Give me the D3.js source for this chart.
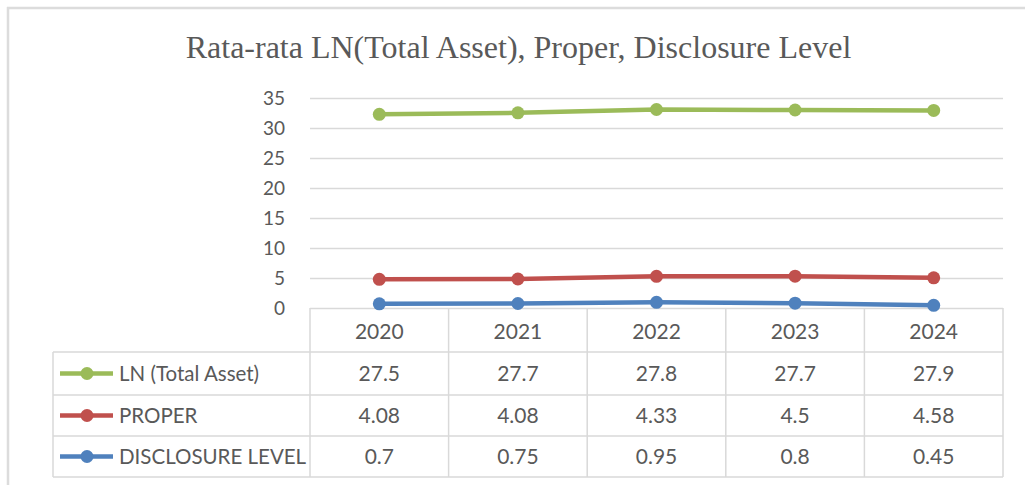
<!DOCTYPE html>
<html>
<head>
<meta charset="utf-8">
<script src="https://cdn.jsdelivr.net/npm/d3@7"></script>
<style>
  body { margin: 0; background: #fff; }
  svg { display: block; }
  .tick text { fill: #595959; }
</style>
</head>
<body>
<div id="chart"></div>
<script>
// data (stacked line chart, table shows raw values)
var years = ["2020", "2021", "2022", "2023", "2024"];
var lnAsset = [27.5, 27.7, 27.8, 27.7, 27.9];
var proper = [4.08, 4.08, 4.33, 4.5, 4.58];
var disclosure = [0.7, 0.75, 0.95, 0.8, 0.45];
var seriesNames = ["LN (Total Asset)", "PROPER", "DISCLOSURE LEVEL"];
var yTicks = [0, 5, 10, 15, 20, 25, 30, 35];

var width = 1025, height = 485;
var plotLeft = 310, plotRight = 1003, plotTop = 98, plotBottom = 308;
var colors = { "DISCLOSURE LEVEL": "#4F81BD", "PROPER": "#C0504D", "LN (Total Asset)": "#9BBB59" };
var grid = "#d9d9d9", textCol = "#595959";
var font = "Lato, 'Open Sans', sans-serif";

var svg = d3.select("#chart").append("svg")
    .attr("width", width)
    .attr("height", height);

// frame (top + left only, like the screenshot)
svg.append("line").attr("x1", 7).attr("x2", width).attr("y1", 8).attr("y2", 8)
    .attr("stroke", "#dcdcdc").attr("stroke-width", 2.5);
svg.append("line").attr("x1", 8).attr("x2", 8).attr("y1", 7).attr("y2", height)
    .attr("stroke", "#dcdcdc").attr("stroke-width", 2.5);

svg.append("text")
    .attr("x", (187 + 850) / 2)
    .attr("y", 58)
    .attr("text-anchor", "middle")
    .style("font-family", "'Liberation Serif', 'DejaVu Serif', serif")
    .style("font-size", "32px")
    .style("fill", textCol)
    .text("Rata-rata LN(Total Asset), Proper, Disclosure Level");

var x = d3.scaleBand().domain(years).range([plotLeft, plotRight]);
var y = d3.scaleLinear().domain([0, 35]).range([plotBottom, plotTop]);

// gridlines + y labels
var yAxis = svg.append("g")
    .attr("transform", "translate(" + plotLeft + ",0)")
    .call(d3.axisLeft(y).tickValues(yTicks).tickSize(-(plotRight - plotLeft)).tickPadding(25));
yAxis.select(".domain").remove();
yAxis.selectAll(".tick line").attr("stroke", grid).attr("stroke-width", 1.5);
yAxis.selectAll(".tick text")
    .style("font-family", font)
    .style("font-size", "19px");

// stacked series
var rows = years.map(function(yr, i) {
    return { year: yr, "DISCLOSURE LEVEL": disclosure[i], "PROPER": proper[i], "LN (Total Asset)": lnAsset[i] };
});
var stack = d3.stack().keys(["DISCLOSURE LEVEL", "PROPER", "LN (Total Asset)"]);
var layers = stack(rows);

var line = d3.line()
    .x(function(d) { return x(d.data.year) + x.bandwidth() / 2; })
    .y(function(d) { return y(d[1]); });

var layer = svg.selectAll(".layer")
    .data(layers)
    .enter().append("g")
    .attr("class", "layer");

layer.append("path")
    .attr("d", line)
    .attr("fill", "none")
    .attr("stroke", function(d) { return colors[d.key]; })
    .attr("stroke-width", 4.5)
    .attr("stroke-linejoin", "round");

layer.selectAll("circle")
    .data(function(d) { return d.map(function(p) { p.key = d.key; return p; }); })
    .enter().append("circle")
    .attr("cx", function(d) { return x(d.data.year) + x.bandwidth() / 2; })
    .attr("cy", function(d) { return y(d[1]); })
    .attr("r", 6.5)
    .attr("fill", function(d) { return colors[d.key]; });

// data table
var tableLeft = 53;
var rowEdges = [308, 352, 395, 436, 477];
var values = [lnAsset, proper, disclosure];
var t = svg.append("g").attr("class", "table");

rowEdges.slice(1).forEach(function(yy) {
    t.append("line").attr("x1", tableLeft).attr("x2", plotRight).attr("y1", yy).attr("y2", yy)
        .attr("stroke", grid).attr("stroke-width", 1.5);
});
years.concat(["end"]).forEach(function(yr, i) {
    var xx = i < years.length ? x(yr) : plotRight;
    t.append("line").attr("x1", xx).attr("x2", xx).attr("y1", plotBottom).attr("y2", rowEdges[4])
        .attr("stroke", grid).attr("stroke-width", 1.5);
});
t.append("line").attr("x1", tableLeft).attr("x2", tableLeft).attr("y1", rowEdges[1]).attr("y2", rowEdges[4])
    .attr("stroke", grid).attr("stroke-width", 1.5);

// header years
t.selectAll(".yr")
    .data(years)
    .enter().append("text")
    .attr("x", function(d) { return x(d) + x.bandwidth() / 2; })
    .attr("y", 331)
    .attr("dy", "0.36em")
    .attr("text-anchor", "middle")
    .style("font-family", font)
    .style("font-size", "21px")
    .style("fill", textCol)
    .text(function(d) { return d; });

seriesNames.forEach(function(name, r) {
    var cy = (rowEdges[r + 1] + rowEdges[r + 2]) / 2;
    t.append("line").attr("x1", 60).attr("x2", 113).attr("y1", cy).attr("y2", cy)
        .attr("stroke", colors[name]).attr("stroke-width", 4.5);
    t.append("circle").attr("cx", 87).attr("cy", cy).attr("r", 6.5).attr("fill", colors[name]);
    t.append("text")
        .attr("x", 119)
        .attr("y", cy)
        .attr("dy", "0.36em")
        .style("font-family", font)
        .style("font-size", "20.5px")
        .style("fill", textCol)
        .text(name);
    t.selectAll(".v" + r)
        .data(values[r])
        .enter().append("text")
        .attr("x", function(d, i) { return x(years[i]) + x.bandwidth() / 2; })
        .attr("y", cy)
        .attr("dy", "0.36em")
        .attr("text-anchor", "middle")
        .style("font-family", font)
        .style("font-size", "21px")
        .style("fill", textCol)
        .text(function(d) { return d; });
});
</script>
</body>
</html>
